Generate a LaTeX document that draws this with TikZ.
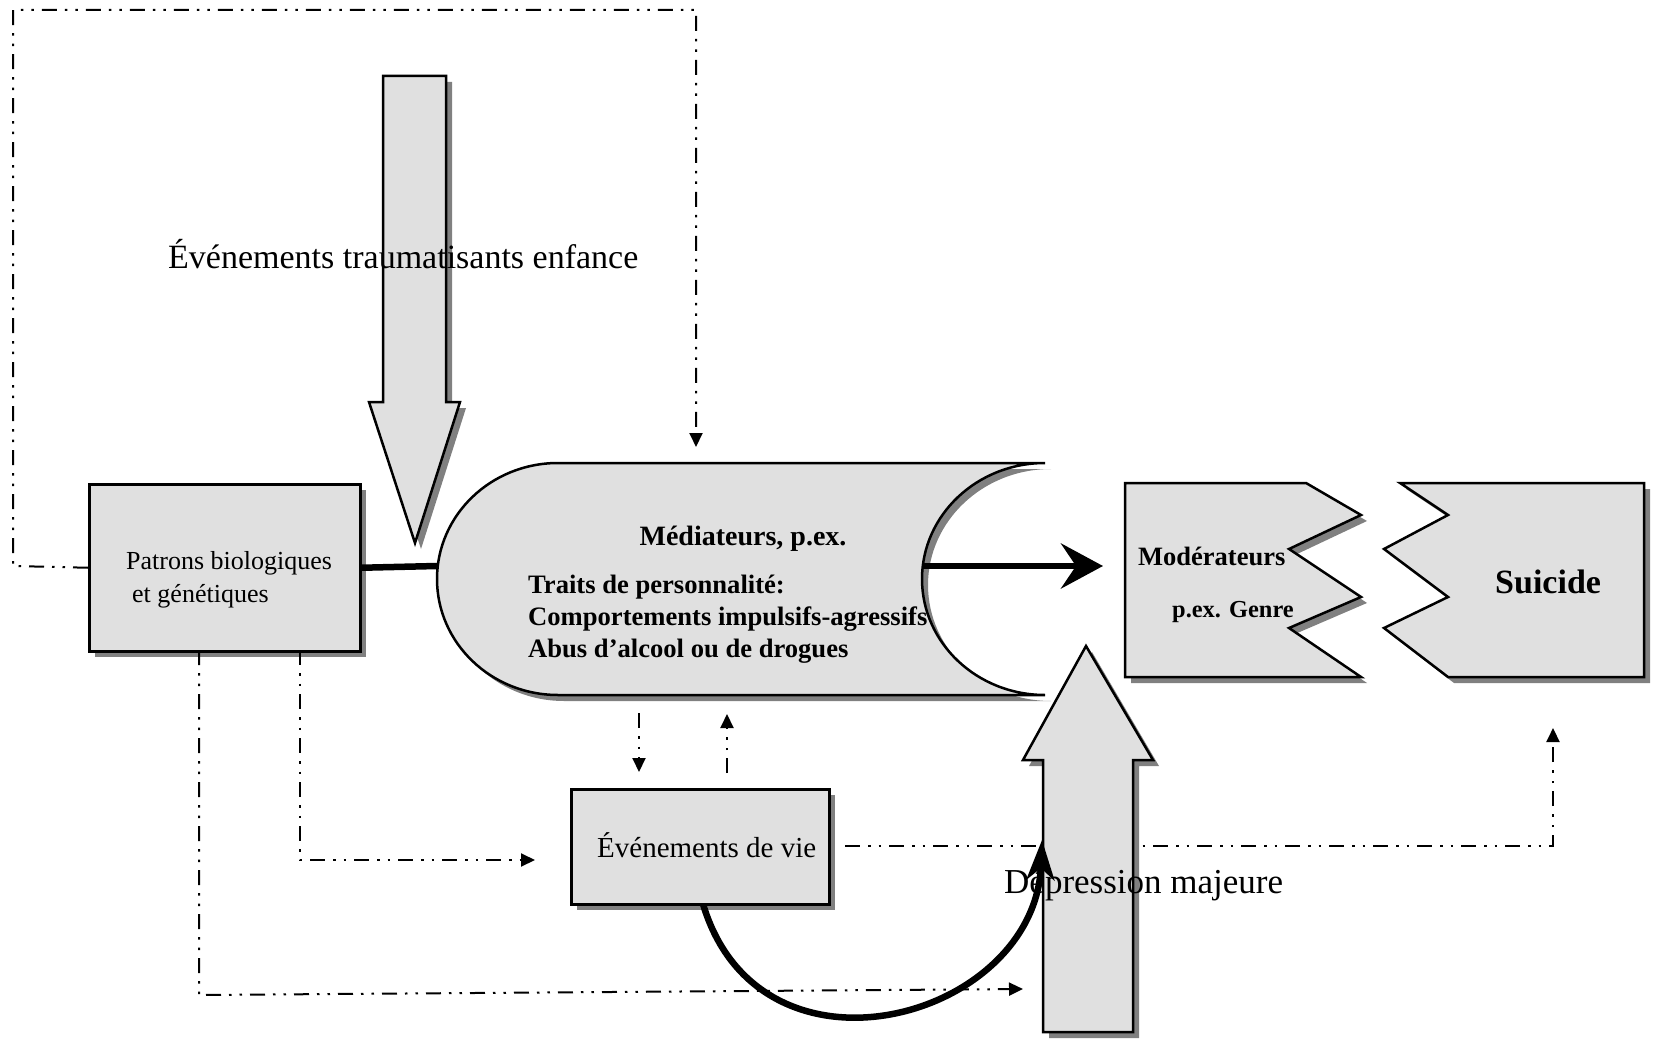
\documentclass[tikz,border=0pt]{standalone}
\usepackage{fontspec}
\setmainfont{Liberation Serif}
\usetikzlibrary{arrows.meta,shadows}
\definecolor{fillg}{RGB}{224,224,224}
\definecolor{shd}{RGB}{128,128,128}
\tikzset{
  gshape/.style={draw=black, line width=2.5pt, fill=fillg, line join=miter,
    general shadow={fill=shd, shadow xshift=6pt, shadow yshift=-6pt}},
  boxnode/.style={gshape, rectangle, inner sep=0pt, anchor=north west},
  dd/.style={line width=2pt, dash pattern=on 15pt off 8pt on 2.5pt off 8pt on 2.5pt off 8pt},
  ddarr/.style={dd, -{Triangle[length=14pt,width=13pt]}},
  thickln/.style={line width=6.5pt},
  bigarr/.style={line width=6.5pt, -{Stealth[length=42pt,width=45pt,inset=15pt]}},
  curvarr/.style={line width=6.5pt, -{Stealth[length=40pt,width=28pt,inset=12pt]}},
  txt/.style={inner sep=0pt, anchor=base west},
}
\begin{document}
\begin{tikzpicture}[x=1pt,y=-1pt]
\useasboundingbox (0,0) rectangle (1654,1040);

% named coordinates
\coordinate (fr1) at (13,566);
\coordinate (fr2) at (13,10);
\coordinate (fr3) at (696,10);
\coordinate (medT) at (696,447);
\coordinate (medL) at (437,566);
\coordinate (medR) at (923,566);
\coordinate (modIn) at (1103,566);
\coordinate (patB1) at (300,650);
\coordinate (corner1) at (300,860);
\coordinate (vieIn) at (535,860);
\coordinate (patB2) at (199,650);
\coordinate (corner2) at (199,995);
\coordinate (depIn) at (1023,989);
\coordinate (medB1) at (639,713);
\coordinate (vieT1) at (639,772);
\coordinate (vieT2) at (727,773);
\coordinate (medB2) at (727,714);
\coordinate (vieR) at (845,846);
\coordinate (corner3) at (1553,846);
\coordinate (suiIn) at (1553,728);
\coordinate (vieB) at (703,904);
\coordinate (depTip) at (1042,840);

% boxes
\node[boxnode, minimum width=271pt, minimum height=167pt] (pat) at (88,483) {};
\node[boxnode, minimum width=258pt, minimum height=115pt] (vie) at (570,788) {};

% dash-dot connectors (behind shapes)
\draw[ddarr] (pat.west) -- (fr1) -- (fr2) -- (fr3) -- (medT);
\draw[ddarr] (patB1) -- (corner1) -- (vieIn);
\draw[ddarr] (patB2) -- (corner2) -- (depIn);
\draw[ddarr] (medB1) -- (vieT1);
\draw[ddarr] (vieT2) -- (medB2);
\draw[ddarr] (vieR) -- (corner3) -- (suiIn);

% top down arrow
\path[gshape] (383,76) -- (446,76) -- (446,402) -- (460,402) -- (415,543)
  -- (369,402) -- (383,402) -- cycle;

% mediator shape
\path[gshape] (1045,463) -- (558,463) .. controls (491,463) and (437,515) .. (437,579)
  .. controls (437,643) and (491,695) .. (558,695) -- (1045,695)
  .. controls (977,695) and (922,643) .. (922,579)
  .. controls (922,515) and (977,463) .. (1045,463) -- cycle;

% moderateurs
\path[gshape] (1125,483) -- (1306,483) -- (1361,515) -- (1289,549) -- (1361,597)
  -- (1289,628) -- (1361,677) -- (1125,677) -- cycle;

% suicide
\path[gshape] (1400,483) -- (1644,483) -- (1644,677) -- (1448,677) -- (1384,628)
  -- (1448,597) -- (1384,549) -- (1448,515) -- cycle;

% depression up arrow
\path[gshape] (1086,646) -- (1153,760) -- (1133,760) -- (1133,1032) -- (1043,1032)
  -- (1043,760) -- (1023,760) -- cycle;

% thick connectors
\draw[thickln] (pat.east) -- (medL);
\draw[bigarr] (medR) -- (modIn);
\draw[curvarr] (vieB) .. controls (760,1095) and (1035,1020) .. (depTip);

% texts
\node[txt] (tTrauma) at (168,269) {\fontsize{34}{40}\selectfont Événements traumatisants enfance};
\node[txt] (tPat1) at (126,569) {\fontsize{26}{30}\selectfont Patrons biologiques};
\node[txt] (tPat2) at (132,602) {\fontsize{26}{30}\selectfont et génétiques};
\node[inner sep=0pt, anchor=base] (tMed) at (743,545) {\fontsize{28}{32}\selectfont\bfseries Médiateurs, p.ex.};
\node[txt] (tMed1) at (528,593) {\fontsize{26.6}{30}\selectfont\bfseries Traits de personnalité:};
\node[txt] (tMed2) at (528,625) {\fontsize{26.6}{30}\selectfont\bfseries Comportements impulsifs-agressifs};
\node[txt] (tMed3) at (528,657) {\fontsize{26.6}{30}\selectfont\bfseries Abus d’alcool ou de drogues};
\node[txt] (tVie) at (597,857) {\fontsize{29}{34}\selectfont Événements de vie};
\node[txt] (tDep) at (1004,893) {\fontsize{35}{40}\selectfont Dépression majeure};
\node[txt] (tMod) at (1138,565) {\fontsize{26.5}{30}\selectfont\bfseries Modérateurs};
\node[txt] (tGenre) at (1172,617) {\fontsize{24.4}{28}\selectfont\bfseries p.ex. Genre};
\node[txt] (tSui) at (1495,593) {\fontsize{34}{40}\selectfont\bfseries Suicide};
\end{tikzpicture}
\end{document}
